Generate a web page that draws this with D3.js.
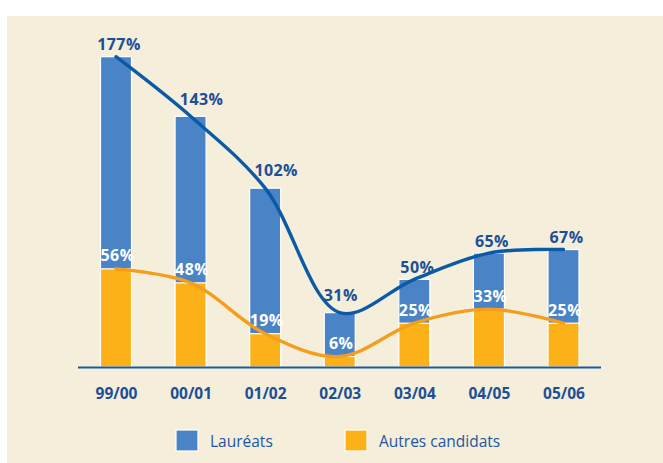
<!DOCTYPE html>
<html>
<head>
<meta charset="utf-8">
<script src="https://cdn.jsdelivr.net/npm/d3@7"></script>
<style>
  html, body { margin: 0; padding: 0; background: #ffffff; }
  svg { display: block; }
</style>
</head>
<body>
<svg id="chart" width="663" height="463"></svg>
<script>
// Academic years
const categories = ["99/00", "00/01", "01/02", "02/03", "03/04", "04/05", "05/06"];
// Growth (%) for prize winners and for other candidates
const laureats = [177, 143, 102, 31, 50, 65, 67];
const autres = [56, 48, 19, 6, 25, 33, 25];
const seriesNames = ["Lauréats", "Autres candidats"];

const svg = d3.select("#chart");
const W = 663, H = 463;

// panel background
svg.append("rect").attr("x", 7).attr("y", 16).attr("width", W - 7).attr("height", H - 16)
  .attr("fill", "#f4eedb");

const baseY = 367;
const x = d3.scalePoint().domain(categories).range([116, 563.5]);
const y = d3.scaleLinear().domain([0, 177]).range([baseY, 56.7]);
const barW = 31;

const cBlue = "#4a84c6", cOrange = "#fbb117";
const cLineBlue = "#0b5aa8", cLineOrange = "#f59d1c";
const cText = "#1c4f98";

// bars: total (blue) with the other-candidates value overlaid (orange)
const g = svg.append("g");
g.selectAll("rect.lau").data(categories).join("rect")
  .attr("class", "lau")
  .attr("x", d => x(d) - barW / 2)
  .attr("y", (d, i) => y(laureats[i]))
  .attr("width", barW)
  .attr("height", (d, i) => baseY - y(laureats[i]))
  .attr("fill", cBlue).attr("stroke", "#ffffff").attr("stroke-width", 1.2);

g.selectAll("rect.aut").data(categories).join("rect")
  .attr("class", "aut")
  .attr("x", d => x(d) - barW / 2)
  .attr("y", (d, i) => y(autres[i]))
  .attr("width", barW)
  .attr("height", (d, i) => baseY - y(autres[i]))
  .attr("fill", cOrange).attr("stroke", "#ffffff").attr("stroke-width", 1.2);

// smoothed trend lines
const line = d3.line().curve(d3.curveCatmullRom.alpha(0.5));
svg.append("path")
  .attr("d", line(categories.map((c, i) => [x(c), y(autres[i])])))
  .attr("fill", "none").attr("stroke", cLineOrange).attr("stroke-width", 3.4)
  .attr("stroke-linecap", "round");
svg.append("path")
  .attr("d", line(categories.map((c, i) => [x(c), y(laureats[i])])))
  .attr("fill", "none").attr("stroke", cLineBlue).attr("stroke-width", 3.4)
  .attr("stroke-linecap", "round");

// value labels; a few are nudged clear of the trend line
const labelNudge = { "00/01": [8, -5], "01/02": [8, -6], "02/03": [-2, -5] };
const fontLab = "'Open Sans', 'DejaVu Sans', sans-serif";
svg.selectAll("text.vl").data(categories).join("text")
  .attr("class", "vl")
  .attr("x", d => x(d) + 3 + (labelNudge[d] ? labelNudge[d][0] : 0))
  .attr("y", (d, i) => y(laureats[i]) - 6.5 + (labelNudge[d] ? labelNudge[d][1] : 0))
  .attr("text-anchor", "middle")
  .attr("font-family", fontLab).attr("font-weight", "bold").attr("font-size", 16)
  .attr("letter-spacing", 0.4)
  .attr("fill", cText)
  .text((d, i) => laureats[i] + "%");

svg.selectAll("text.va").data(categories).join("text")
  .attr("class", "va")
  .attr("x", d => x(d) + 1.5)
  .attr("y", (d, i) => y(autres[i]) - 7.5)
  .attr("text-anchor", "middle")
  .attr("font-family", fontLab).attr("font-weight", "bold").attr("font-size", 16)
  .attr("letter-spacing", 0.4)
  .attr("fill", "#ffffff")
  .text((d, i) => autres[i] + "%");

// category axis
const axis = svg.append("g").attr("transform", `translate(0,${baseY})`)
  .call(d3.axisBottom(x).tickSize(0).tickPadding(0));
axis.select(".domain").remove();
axis.append("line").attr("x1", 78).attr("x2", 601).attr("y1", 0.5).attr("y2", 0.5)
  .attr("stroke", "#1a5aa5").attr("stroke-width", 2);
axis.selectAll(".tick text")
  .attr("dy", null).attr("y", 32)
  .attr("font-family", fontLab).attr("font-weight", "bold").attr("font-size", 15.5)
  .attr("fill", cText);

// legend
const legend = svg.append("g");
const legItems = [
  { name: seriesNames[0], color: cBlue, x: 176 },
  { name: seriesNames[1], color: cOrange, x: 345 }
];
legItems.forEach(it => {
  legend.append("rect").attr("x", it.x).attr("y", 430).attr("width", 22).attr("height", 21)
    .attr("fill", it.color).attr("stroke", "#ffffff").attr("stroke-width", 1.2);
  legend.append("text").attr("x", it.x + 34).attr("y", 447)
    .attr("font-family", fontLab).attr("font-size", 15.5)
    .attr("fill", "#1d56a0").text(it.name);
});
</script>
</body>
</html>
